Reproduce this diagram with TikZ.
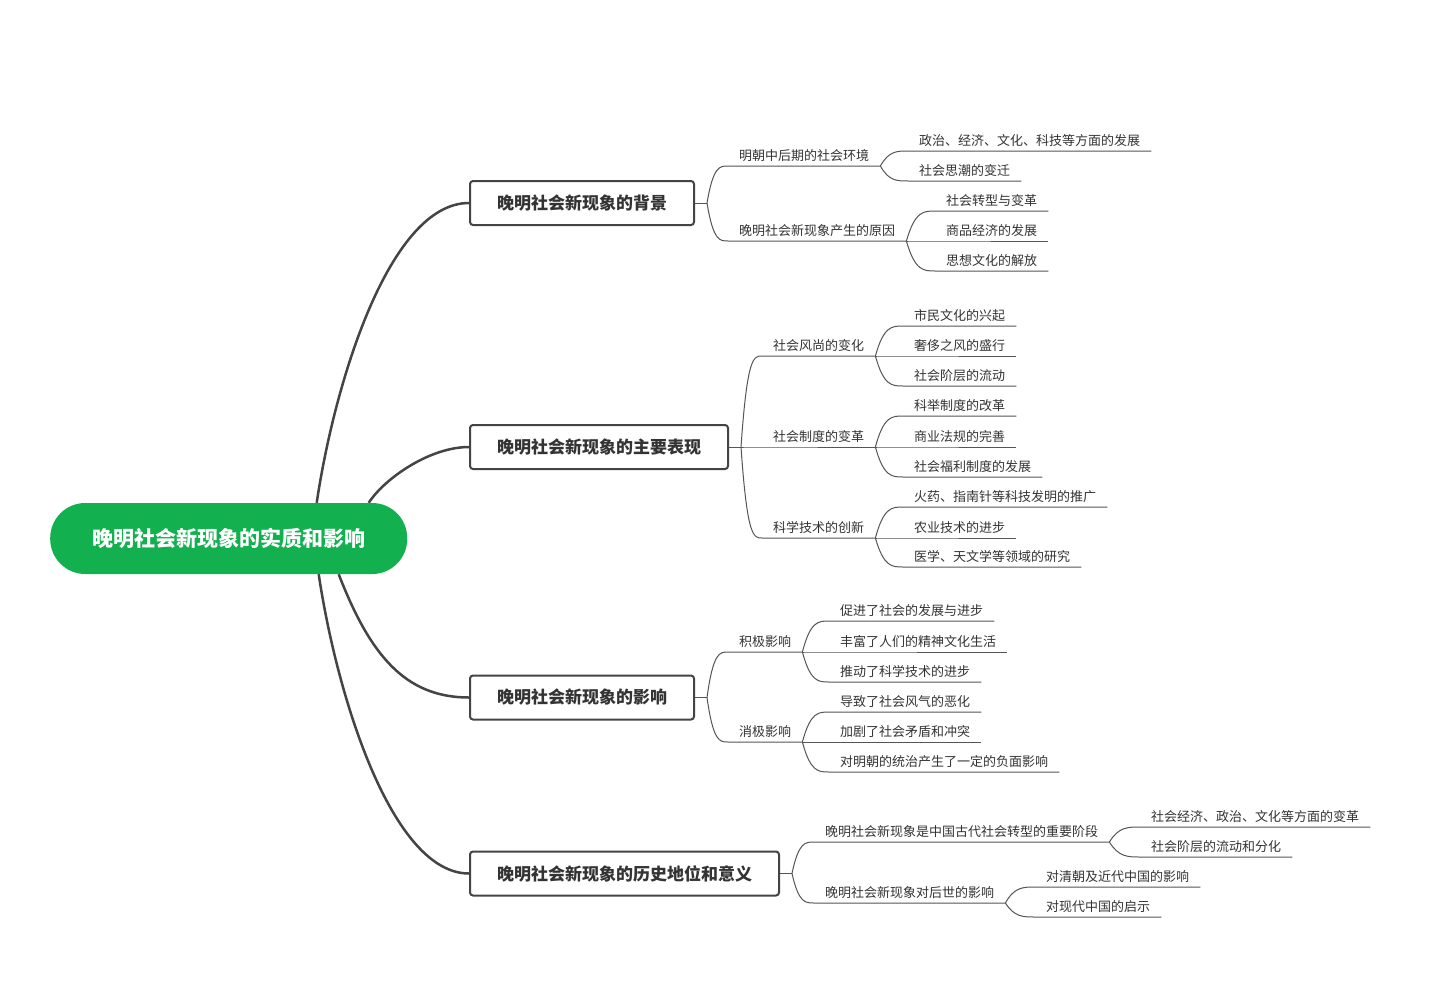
\documentclass[tikz,border=0pt]{standalone}
\usepackage{fontspec}
\setmainfont{Noto Sans CJK SC}
\usetikzlibrary{calc,backgrounds}
\definecolor{rootgreen}{RGB}{19,176,80}
\definecolor{ink}{RGB}{51,51,51}
\definecolor{edgegray}{RGB}{68,68,68}
\definecolor{twiggray}{RGB}{85,85,85}
\tikzstyle{central} = [rectangle, rounded corners=35pt, minimum height=71pt, inner xsep=42pt, fill=rootgreen, text=white, font=\fontsize{21}{25}\selectfont\bfseries]
\tikzstyle{branch} = [rectangle, rounded corners=3pt, minimum height=44pt, inner xsep=27pt, anchor=west, draw=edgegray, line width=2pt, fill=white, text=ink, font=\fontsize{17}{20}\selectfont\bfseries]
\tikzstyle{topic} = [anchor=south west, inner xsep=11pt, inner ysep=5pt, text depth=0pt, text=ink, font=\fontsize{13}{15}\selectfont]
\tikzstyle{limb} = [line width=2.5pt, draw=edgegray]
\tikzstyle{twig} = [line width=1pt, draw=twiggray]
\tikzstyle{fork} = [to path={let \p1=(\tikztostart), \p2=(\tikztotarget) in .. controls ({0.7*\x1+0.3*\x2},\y2) and ({0.4*\x1+0.6*\x2},\y2) .. (\tikztotarget) \tikztonodes}]

\begin{document}
\begin{tikzpicture}[x=1pt, y=-1pt]
        \useasboundingbox (0,0) rectangle (1447,998);
        \node(root) [central, anchor=west] at (50,538.5) {晚明社会新现象的实质和影响};
        \node(b1) [branch] at (469,203) {晚明社会新现象的背景};
        \node(b2) [branch] at (469,447) {晚明社会新现象的主要表现};
        \node(b3) [branch] at (469,697.5) {晚明社会新现象的影响};
        \node(b4) [branch] at (469,873.5) {晚明社会新现象的历史地位和意义};
        % background
        \node(a11) [topic] at (728,166) {明朝中后期的社会环境};
        \node(a12) [topic] at (728,241) {晚明社会新现象产生的原因};
        \node(g111) [topic] at (908,151) {政治、经济、文化、科技等方面的发展};
        \node(g112) [topic] at (908,181) {社会思潮的变迁};
        \node(g121) [topic] at (935,211) {社会转型与变革};
        \node(g122) [topic] at (935,241) {商品经济的发展};
        \node(g123) [topic] at (935,271) {思想文化的解放};
        % main manifestations
        \node(a21) [topic] at (762,356) {社会风尚的变化};
        \node(a22) [topic] at (762,447) {社会制度的变革};
        \node(a23) [topic] at (762,538) {科学技术的创新};
        \node(g211) [topic] at (903,326) {市民文化的兴起};
        \node(g212) [topic] at (903,356) {奢侈之风的盛行};
        \node(g213) [topic] at (903,386) {社会阶层的流动};
        \node(g221) [topic] at (903,416) {科举制度的改革};
        \node(g222) [topic] at (903,447) {商业法规的完善};
        \node(g223) [topic] at (903,477) {社会福利制度的发展};
        \node(g231) [topic] at (903,507) {火药、指南针等科技发明的推广};
        \node(g232) [topic] at (903,538) {农业技术的进步};
        \node(g233) [topic] at (903,567) {医学、天文学等领域的研究};
        % influence
        \node(a31) [topic] at (728,652) {积极影响};
        \node(a32) [topic] at (728,742) {消极影响};
        \node(g311) [topic] at (829,621) {促进了社会的发展与进步};
        \node(g312) [topic] at (829,652) {丰富了人们的精神文化生活};
        \node(g313) [topic] at (829,682) {推动了科学技术的进步};
        \node(g321) [topic] at (829,712) {导致了社会风气的恶化};
        \node(g322) [topic] at (829,742) {加剧了社会矛盾和冲突};
        \node(g323) [topic] at (829,772) {对明朝的统治产生了一定的负面影响};
        % historical status
        \node(a41) [topic] at (814,842) {晚明社会新现象是中国古代社会转型的重要阶段};
        \node(a42) [topic] at (814,903) {晚明社会新现象对后世的影响};
        \node(g411) [topic] at (1140,827) {社会经济、政治、文化等方面的变革};
        \node(g412) [topic] at (1140,857) {社会阶层的流动和分化};
        \node(g421) [topic] at (1035,887) {对清朝及近代中国的影响};
        \node(g422) [topic] at (1035,917) {对现代中国的启示};

        \coordinate(r1) at ([xshift=88pt]root.north);
        \coordinate(r2) at ([xshift=140pt]root.north);
        \coordinate(r3) at ([xshift=110pt]root.south);
        \coordinate(r4) at ([xshift=90pt]root.south);
        \begin{pgfonlayer}{background}
            \fill [white] (0,0) rectangle (1447,998);
            \draw [limb] (r1) .. controls (335,380) and (390,203) .. (b1.west);
            \draw [limb] (r2) .. controls (385,478) and (430,447) .. (b2.west);
            \draw [limb] (r3) .. controls (370,655) and (405,697.5) .. (b3.west);
            \draw [limb] (r4) .. controls (337,697) and (392,873.5) .. (b4.west);
        \end{pgfonlayer}

        \coordinate(h1) at ([xshift=12pt]b1.east);
        \coordinate(h2) at ([xshift=12pt]b2.east);
        \coordinate(h3) at ([xshift=12pt]b3.east);
        \coordinate(h4) at ([xshift=12pt]b4.east);
        \draw [twig] (b1.east)--(h1);
        \draw [twig] (b2.east)--(h2);
        \draw [twig] (b3.east)--(h3);
        \draw [twig] (b4.east)--(h4);

        \draw [twig] (h1) to[fork] (a11.south west)--(a11.south east);
        \draw [twig] (h1) to[fork] (a12.south west)--(a12.south east);
        \draw [twig] (a11.south east) to[fork] (g111.south west)--(g111.south east);
        \draw [twig] (a11.south east) to[fork] (g112.south west)--(g112.south east);
        \draw [twig] (a12.south east) to[fork] (g121.south west)--(g121.south east);
        \draw [twig] (a12.south east) to[fork] (g122.south west)--(g122.south east);
        \draw [twig] (a12.south east) to[fork] (g123.south west)--(g123.south east);

        \draw [twig] (h2) to[fork] (a21.south west)--(a21.south east);
        \draw [twig] (h2) to[fork] (a22.south west)--(a22.south east);
        \draw [twig] (h2) to[fork] (a23.south west)--(a23.south east);
        \draw [twig] (a21.south east) to[fork] (g211.south west)--(g211.south east);
        \draw [twig] (a21.south east) to[fork] (g212.south west)--(g212.south east);
        \draw [twig] (a21.south east) to[fork] (g213.south west)--(g213.south east);
        \draw [twig] (a22.south east) to[fork] (g221.south west)--(g221.south east);
        \draw [twig] (a22.south east) to[fork] (g222.south west)--(g222.south east);
        \draw [twig] (a22.south east) to[fork] (g223.south west)--(g223.south east);
        \draw [twig] (a23.south east) to[fork] (g231.south west)--(g231.south east);
        \draw [twig] (a23.south east) to[fork] (g232.south west)--(g232.south east);
        \draw [twig] (a23.south east) to[fork] (g233.south west)--(g233.south east);

        \draw [twig] (h3) to[fork] (a31.south west)--(a31.south east);
        \draw [twig] (h3) to[fork] (a32.south west)--(a32.south east);
        \draw [twig] (a31.south east) to[fork] (g311.south west)--(g311.south east);
        \draw [twig] (a31.south east) to[fork] (g312.south west)--(g312.south east);
        \draw [twig] (a31.south east) to[fork] (g313.south west)--(g313.south east);
        \draw [twig] (a32.south east) to[fork] (g321.south west)--(g321.south east);
        \draw [twig] (a32.south east) to[fork] (g322.south west)--(g322.south east);
        \draw [twig] (a32.south east) to[fork] (g323.south west)--(g323.south east);

        \draw [twig] (h4) to[fork] (a41.south west)--(a41.south east);
        \draw [twig] (h4) to[fork] (a42.south west)--(a42.south east);
        \draw [twig] (a41.south east) to[fork] (g411.south west)--(g411.south east);
        \draw [twig] (a41.south east) to[fork] (g412.south west)--(g412.south east);
        \draw [twig] (a42.south east) to[fork] (g421.south west)--(g421.south east);
        \draw [twig] (a42.south east) to[fork] (g422.south west)--(g422.south east);
    \end{tikzpicture}
\end{document}
